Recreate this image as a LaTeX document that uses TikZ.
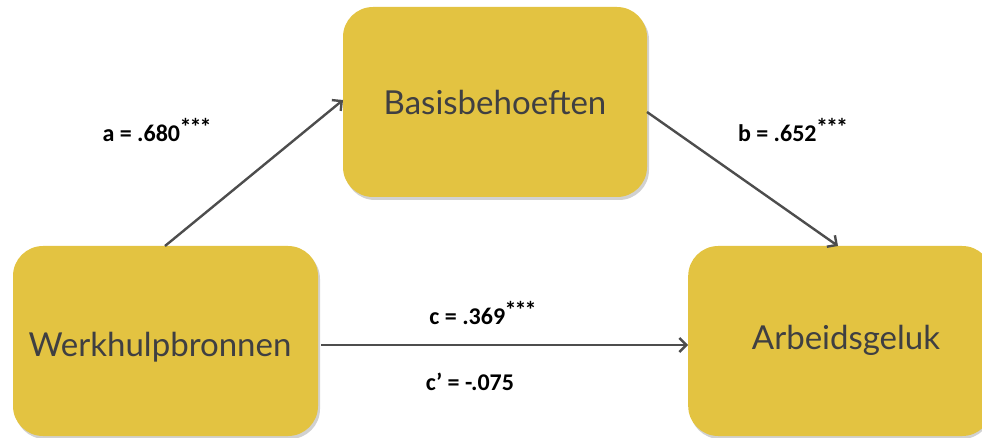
\documentclass[tikz,border=0pt]{standalone}
\usepackage{fontspec}
\setmainfont{Lato}
\newfontfamily\labfont{Carlito}
\usetikzlibrary{arrows.meta}
\definecolor{boxfill}{HTML}{E3C341}
\definecolor{ink}{HTML}{3F3F42}
\definecolor{arrowc}{HTML}{4D4D4D}
\tikzset{
  box/.style={draw=none, fill=boxfill, rounded corners=30pt, minimum width=#1, minimum height=190pt, inner sep=0pt},
  boxtext/.style={text=ink, font=\fontsize{33}{38}\selectfont, inner sep=0pt},
  shadowbox/.style={fill=black!18, rounded corners=30pt},
  conn/.style={draw=arrowc, line width=2.4pt, -{Straight Barb[length=7pt,width=14pt,line width=2.4pt]}},
  lab/.style={text=black, font=\labfont\bfseries\fontsize{24}{28}\selectfont, inner sep=0pt}
}
\newcommand{\stars}{\raisebox{6pt}{\kern-0.5pt*\kern-2pt*\kern-2pt*}}
\begin{document}
\begin{tikzpicture}[x=1pt,y=-1pt]
\useasboundingbox (0,0) rectangle (982,438);
% shadows
\fill[shadowbox] (345,10) rectangle (649,200);
\fill[shadowbox] (15,249) rectangle (320,439);
\fill[shadowbox] (690,249) rectangle (992,439);
\node[box=304pt] (B) at (495,102) {};
\node[box=305pt] (W) at (165.5,341) {};
\node[box=304pt, anchor=west] (A) at (688,341) {};
\node[boxtext] (Bt) at (495,102) {Basisbehoeften};
\node[boxtext] (Wt) at (160,347) {Werkhulpbronnen};
\node[boxtext] (At) at (846,340) {Arbeidsgeluk};
\coordinate (w1) at (165,246);
\coordinate (b1) at (343,100);
\coordinate (b2) at (647,112);
\coordinate (a1) at (838,246);
\coordinate (wE) at (321,345);
\coordinate (aW) at (688,345);
\draw[conn] (w1) -- (b1);
\draw[conn] (b2) -- (a1);
\draw[conn] (wE) -- (aW);
\node[lab] (la) at (157,130) {a = .680\stars};
\node[lab] (lb) at (793,130) {b = .652\stars};
\node[lab] (lc) at (483,313) {c = .369\stars};
\node[lab] (lcp) at (470,382) {c’ = -.075};
\end{tikzpicture}
\end{document}
